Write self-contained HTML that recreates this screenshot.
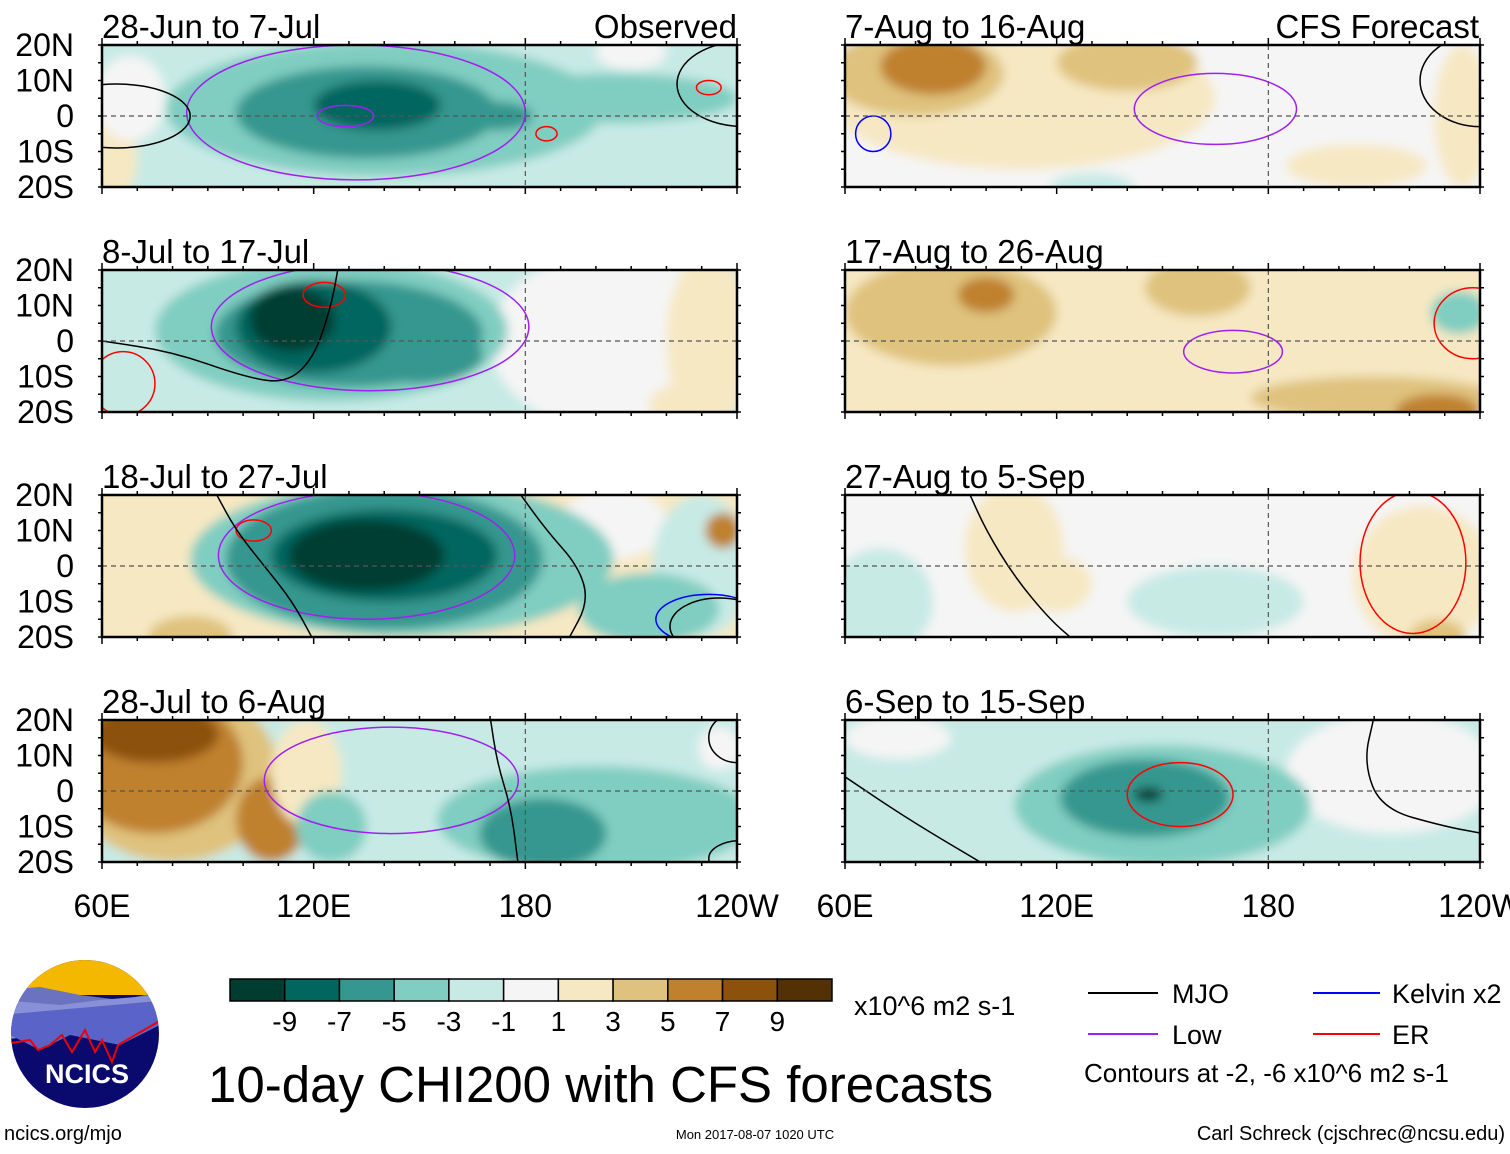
<!DOCTYPE html>
<html><head><meta charset="utf-8"><style>
body{margin:0;background:#fff;}
svg text{font-family:"Liberation Sans",sans-serif;fill:#000;}
</style></head><body>
<svg id="c" width="1510" height="1149" viewBox="0 0 1510 1149" xmlns="http://www.w3.org/2000/svg">
<defs><filter id="bl" x="-5%" y="-20%" width="110%" height="140%"><feGaussianBlur stdDeviation="5"/></filter></defs>
<g id="panels"></g>
<g id="legend">
 <g id="cbar"></g>
 <text x="854" y="1015" font-size="27">x10^6 m2 s-1</text>
 <line x1="1088" y1="993" x2="1158" y2="993" stroke="#000" stroke-width="2"/>
 <text x="1172" y="1003" font-size="27">MJO</text>
 <line x1="1088" y1="1034" x2="1158" y2="1034" stroke="#a020f0" stroke-width="2"/>
 <text x="1172" y="1044" font-size="27">Low</text>
 <line x1="1313" y1="993" x2="1380" y2="993" stroke="#0000ff" stroke-width="2"/>
 <text x="1392" y="1003" font-size="27">Kelvin x2</text>
 <line x1="1313" y1="1034" x2="1380" y2="1034" stroke="#ff0000" stroke-width="2"/>
 <text x="1392" y="1044" font-size="27">ER</text>
 <text x="1084" y="1082" font-size="26">Contours at -2, -6 x10^6 m2 s-1</text>
</g>
<text x="208" y="1102" font-size="51">10-day CHI200 with CFS forecasts</text>
<text x="755" y="1139" font-size="13" text-anchor="middle">Mon 2017-08-07 1020 UTC</text>
<text x="1505" y="1140" font-size="20" text-anchor="end">Carl Schreck (cjschrec@ncsu.edu)</text>
<text x="4" y="1140" font-size="20">ncics.org/mjo</text>
<g>
 <clipPath id="lc"><circle cx="85" cy="1034" r="74"/></clipPath>
 <g clip-path="url(#lc)">
  <rect x="0" y="950" width="170" height="170" fill="#0a0a6e"/>
  <rect x="0" y="950" width="170" height="45" fill="#f5b800"/>
  <path d="M0 990 L40 987 L80 995 L120 1000 L170 990 L170 1020 L0 1030Z" fill="#6b73c0"/>
  <path d="M0 1000 L60 1005 L100 1000 L160 995 L170 1020 L0 1040Z" fill="#8890d8"/>
  <path d="M0 1030 L40 1050 L70 1035 L120 1045 L170 1020 L170 1000 L0 1015Z" fill="#5a63c8"/>
  <path d="M0 1045 L30 1040 L38 1050 L50 1045 L62 1035 L72 1052 L85 1030 L95 1052 L102 1040 L112 1062 L118 1045 L170 1015" fill="none" stroke="#e00" stroke-width="2"/>
 </g>
 <text x="87" y="1083" font-size="27" font-weight="bold" text-anchor="middle" style="fill:#fff">NCICS</text>
</g>
</svg>
<script>
const COLORS=["#003c30","#01665e","#35978f","#80cdc1","#c7eae5","#f5f5f5","#f6e8c3","#dfc27d","#bf812d","#8c510a","#543005"];
const CB_LABELS=["-9","-7","-5","-3","-1","1","3","5","7","9"];
const PANEL_TITLES=["28-Jun to 7-Jul","8-Jul to 17-Jul","18-Jul to 27-Jul","28-Jul to 6-Aug","7-Aug to 16-Aug","17-Aug to 26-Aug","27-Aug to 5-Sep","6-Sep to 15-Sep"];
const LAT_LABELS=["20N","10N","0","10S","20S"];
const LON_LABELS=["60E","120E","180","120W"];
const LON_TICKS=[60,120,180,240];
// blobs: [lon,lat,rlon,rlat,level]
const BG=[4,4,6,4,5,6,5,4];
const BLOBS=[
 [[62,-12,8,12,6],[68,5,10,12,5],[210,18,10,5,5],[140,2,62,19,3],[205,5,35,7,3],[135,1,37,13,2],[172,0,10,4,2],[138,3,18,7,1]],
 [[75,5,15,20,4],[205,0,35,25,5],[232,0,12,25,6],[225,-18,10,6,6],[125,3,50,20,3],[130,2,38,15,2],[150,-4,18,8,2],[120,4,22,13,1],[114,6,12,9,0]],
 [[80,0,25,25,6],[205,12,15,10,5],[230,0,14,20,4],[85,-20,12,6,7],[236,10,5,5,8],[145,2,60,22,3],[215,-12,20,10,3],[140,2,45,20,2],[140,3,32,13,1],[135,3,22,10,0]],
 [[80,5,30,25,7],[75,8,25,20,8],[75,16,18,8,9],[108,-8,10,12,8],[118,5,10,15,6],[200,-8,45,15,3],[185,-12,18,10,2],[125,-10,10,10,3],[235,12,6,6,5]],
 [[110,5,55,20,6],[80,12,25,12,7],[140,15,20,8,7],[85,14,15,8,8],[130,-20,12,4,4],[205,-14,20,6,6],[235,0,8,20,6]],
 [[150,0,90,30,6],[90,8,30,15,7],[160,15,15,8,7],[210,-16,35,6,7],[228,-20,12,5,8],[100,13,8,5,8],[234,8,8,6,3]],
 [[70,-10,15,15,4],[165,-10,25,10,4],[108,5,14,18,6],[120,-5,10,8,6],[224,-3,20,20,6],[228,-20,8,5,7]],
 [[75,15,15,6,5],[215,5,30,17,5],[150,-4,42,17,3],[145,-2,24,11,2],[146,-1,4,2,0]]
];
// ellipse contours: [lon,lat,rlon,rlat,color]
const CONTOURS=[
 [[132,1,48,19,"#a020f0"],[129,0,8,3,"#a020f0"],[186,-5,3,2,"#ff0000"],[232,8,3.5,2,"#ff0000"],[64,0,21,9,"#000"],[242,9,19,12,"#000"]],
 [[136,4,45,18,"#a020f0"],[123,13,6,3.5,"#ff0000"],[66,-12,9,9,"#ff0000"]],
 [[135,3,42,18,"#a020f0"],[103,10,5,3,"#ff0000"],[232,-15,15,7,"#0000ff"],[235,-17,14,8,"#000"]],
 [[142,3,36,15,"#a020f0"],[240,15,8,7,"#000"],[241,-19,9,5,"#000"]],
 [[165,2,23,10,"#a020f0"],[68,-5,5,5,"#0000ff"],[240,10,17,13,"#000"]],
 [[170,-3,14,6,"#a020f0"],[238,5,11,10,"#ff0000"]],
 [[221,1,15,20,"#ff0000"]],
 [[155,-1,15,9,"#ff0000"]]
];
// MJO line contours: [panel, [[lon,lat],...]]
const LINES=[
 [1,[[60,0],[80,-3],[100,-10],[112,-12],[120,-5],[125,10],[127,21]]],
 [2,[[92,21],[98,10],[106,0],[114,-10],[120,-21]]],
 [2,[[178,21],[186,10],[195,0],[198,-10],[192,-21]]],
 [3,[[170,21],[172,8],[176,-5],[178,-21]]],
 [6,[[95,21],[100,10],[108,-3],[118,-15],[125,-21]]],
 [7,[[60,4],[78,-8],[100,-21]]],
 [7,[[210,21],[207,8],[212,-5],[230,-10],[241,-12]]]
];
const NS="http://www.w3.org/2000/svg";
const PX=[102,845],PY=[45,270,495,720],PW=635,PH=142;
function mk(t,a,p){const e=document.createElementNS(NS,t);for(const k in a)e.setAttribute(k,a[k]);p.appendChild(e);return e;}
const root=document.getElementById('panels');
for(let i=0;i<8;i++){
 const x0=PX[i<4?0:1],y0=PY[i%4];
 const xs=lon=>x0+(lon-60)/180*PW, ys=lat=>y0+(20-lat)/40*PH;
 const g=mk('g',{},root);
 
 
 mk('clipPath',{id:'cp'+i},g);
 mk('rect',{x:x0,y:y0,width:PW,height:PH},document.getElementById('cp'+i));
 const cg=mk('g',{'clip-path':'url(#cp'+i+')'},g);
 const fg=mk('g',{filter:'url(#bl)'},cg);
 mk('rect',{x:x0-30,y:y0-30,width:PW+60,height:PH+60,fill:COLORS[BG[i]]},fg);
 BLOBS[i].forEach(b=>{const e=mk('ellipse',{cx:xs(b[0]),cy:ys(b[1]),rx:b[2]/180*PW,ry:b[3]/40*PH,fill:COLORS[b[4]]},fg);
  
  });
 CONTOURS[i].forEach(c=>{const e=mk('ellipse',{cx:xs(c[0]),cy:ys(c[1]),rx:c[2]/180*PW,ry:c[3]/40*PH,fill:'none',stroke:c[4],'stroke-width':1.5},cg);
  
  });
 LINES.filter(l=>l[0]===i).forEach(l=>{
  const pts=l[1].map(p=>[xs(p[0]),ys(p[1])]);
  let d='M'+pts[0].join(' ');
  for(let k=1;k<pts.length;k++){const a=pts[k-1],b=pts[k];const mx=(a[0]+b[0])/2,my=(a[1]+b[1])/2;d+=' Q'+a.join(' ')+' '+mx+' '+my;}
  d+=' L'+pts[pts.length-1].join(' ');
  const e=mk('path',{d:d,fill:'none',stroke:'#000','stroke-width':1.5},cg);
  
  });
 mk('line',{x1:x0,y1:ys(0),x2:x0+PW,y2:ys(0),stroke:'#555','stroke-dasharray':'5,4','stroke-width':1.2},g);
 mk('line',{x1:xs(180),y1:y0,x2:xs(180),y2:y0+PH,stroke:'#555','stroke-dasharray':'5,4','stroke-width':1.2},g);
 mk('rect',{x:x0,y:y0,width:PW,height:PH,fill:'none',stroke:'#000','stroke-width':2.5},g);
 for(let l=60;l<=240;l+=10){const big=LON_TICKS.includes(l)?7:4;
  mk('line',{x1:xs(l),y1:y0,x2:xs(l),y2:y0-big,stroke:'#000','stroke-width':1.5},g);
  mk('line',{x1:xs(l),y1:y0+PH,x2:xs(l),y2:y0+PH+big,stroke:'#000','stroke-width':1.5},g);}
 for(let la=-20;la<=20;la+=5){mk('line',{x1:x0,y1:ys(la),x2:x0-4,y2:ys(la),stroke:'#000','stroke-width':1.5},g);
  mk('line',{x1:x0+PW,y1:ys(la),x2:x0+PW+4,y2:ys(la),stroke:'#000','stroke-width':1.5},g);}
 const t=mk('text',{x:x0,y:y0-7,'font-size':33},g);t.textContent=PANEL_TITLES[i];
 
 
 if(i<4){LAT_LABELS.forEach((s,k)=>{const tt=mk('text',{x:74,y:y0+k*PH/4+11,'font-size':32,'text-anchor':'end'},g);tt.textContent=s;
  
  });}
 if(i%4===3){LON_TICKS.forEach((l,k)=>{const tt=mk('text',{x:xs(l),y:917,'font-size':32,'text-anchor':'middle'},g);tt.textContent=LON_LABELS[k];
  
  });}
}
const hdr1=mk('text',{x:737,y:38,'font-size':33,'text-anchor':'end'},root);hdr1.textContent='Observed';


const hdr2=mk('text',{x:1479,y:38,'font-size':33,'text-anchor':'end'},root);hdr2.textContent='CFS Forecast';


const cb=document.getElementById('cbar');const bw=602/11;
COLORS.forEach((c,k)=>{const r=mk('rect',{x:230+k*bw,y:979,width:bw,height:22,fill:c,stroke:'#000','stroke-width':1.5},cb);
 
 });
CB_LABELS.forEach((s,k)=>{const t=mk('text',{x:230+(k+1)*bw,y:1031,'font-size':28,'text-anchor':'middle'},cb);t.textContent=s;
 
 });
</script>
</body></html>
